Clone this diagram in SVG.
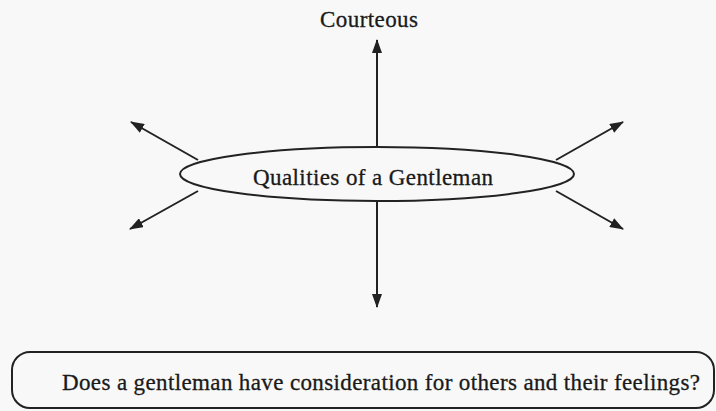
<svg xmlns="http://www.w3.org/2000/svg" width="716" height="411" viewBox="0 0 716 411">
<defs>
<style>
.c{stroke:#222;stroke-width:2;fill:none}
.s{stroke:#222;stroke-width:2;fill:none}
</style>
<marker id="ah2" viewBox="0 0 14 10" refX="13" refY="5" markerWidth="14" markerHeight="10" markerUnits="userSpaceOnUse" orient="auto"><path d="M0,0 L14,5 L0,10 z" fill="#222"/></marker>
</defs>
<rect width="716" height="411" fill="#f8f8f8"/>
<g id="connectors">
<line class="c" x1="377" y1="147" x2="377" y2="40" marker-end="url(#ah2)"/>
<line class="c" x1="377" y1="201" x2="377" y2="307" marker-end="url(#ah2)"/>
<line class="c" x1="198" y1="160" x2="131" y2="122" marker-end="url(#ah2)"/>
<line class="c" x1="198" y1="191" x2="130" y2="229" marker-end="url(#ah2)"/>
<line class="c" x1="556" y1="160" x2="623" y2="122" marker-end="url(#ah2)"/>
<line class="c" x1="556" y1="191" x2="623" y2="229" marker-end="url(#ah2)"/>
</g>
<g id="courteous">
<text x="320" y="27" font-family="'Liberation Serif', serif" font-size="23" fill="#1a1a1a" stroke="#1a1a1a" stroke-width="0.3" textLength="98" lengthAdjust="spacing">Courteous</text>
</g>
<g id="center">
<ellipse class="s" cx="377" cy="174" rx="197" ry="27"/>
<text x="253" y="185" font-family="'Liberation Serif', serif" font-size="23" fill="#1a1a1a" stroke="#1a1a1a" stroke-width="0.3" textLength="240" lengthAdjust="spacing">Qualities of a Gentleman</text>
</g>
<g id="question">
<rect class="s" x="12" y="352" width="702" height="56" rx="18" ry="18"/>
<text x="62" y="390" font-family="'Liberation Serif', serif" font-size="23" fill="#1a1a1a" stroke="#1a1a1a" stroke-width="0.3" textLength="638" lengthAdjust="spacing">Does a gentleman have consideration for others and their feelings?</text>
</g>
</svg>
